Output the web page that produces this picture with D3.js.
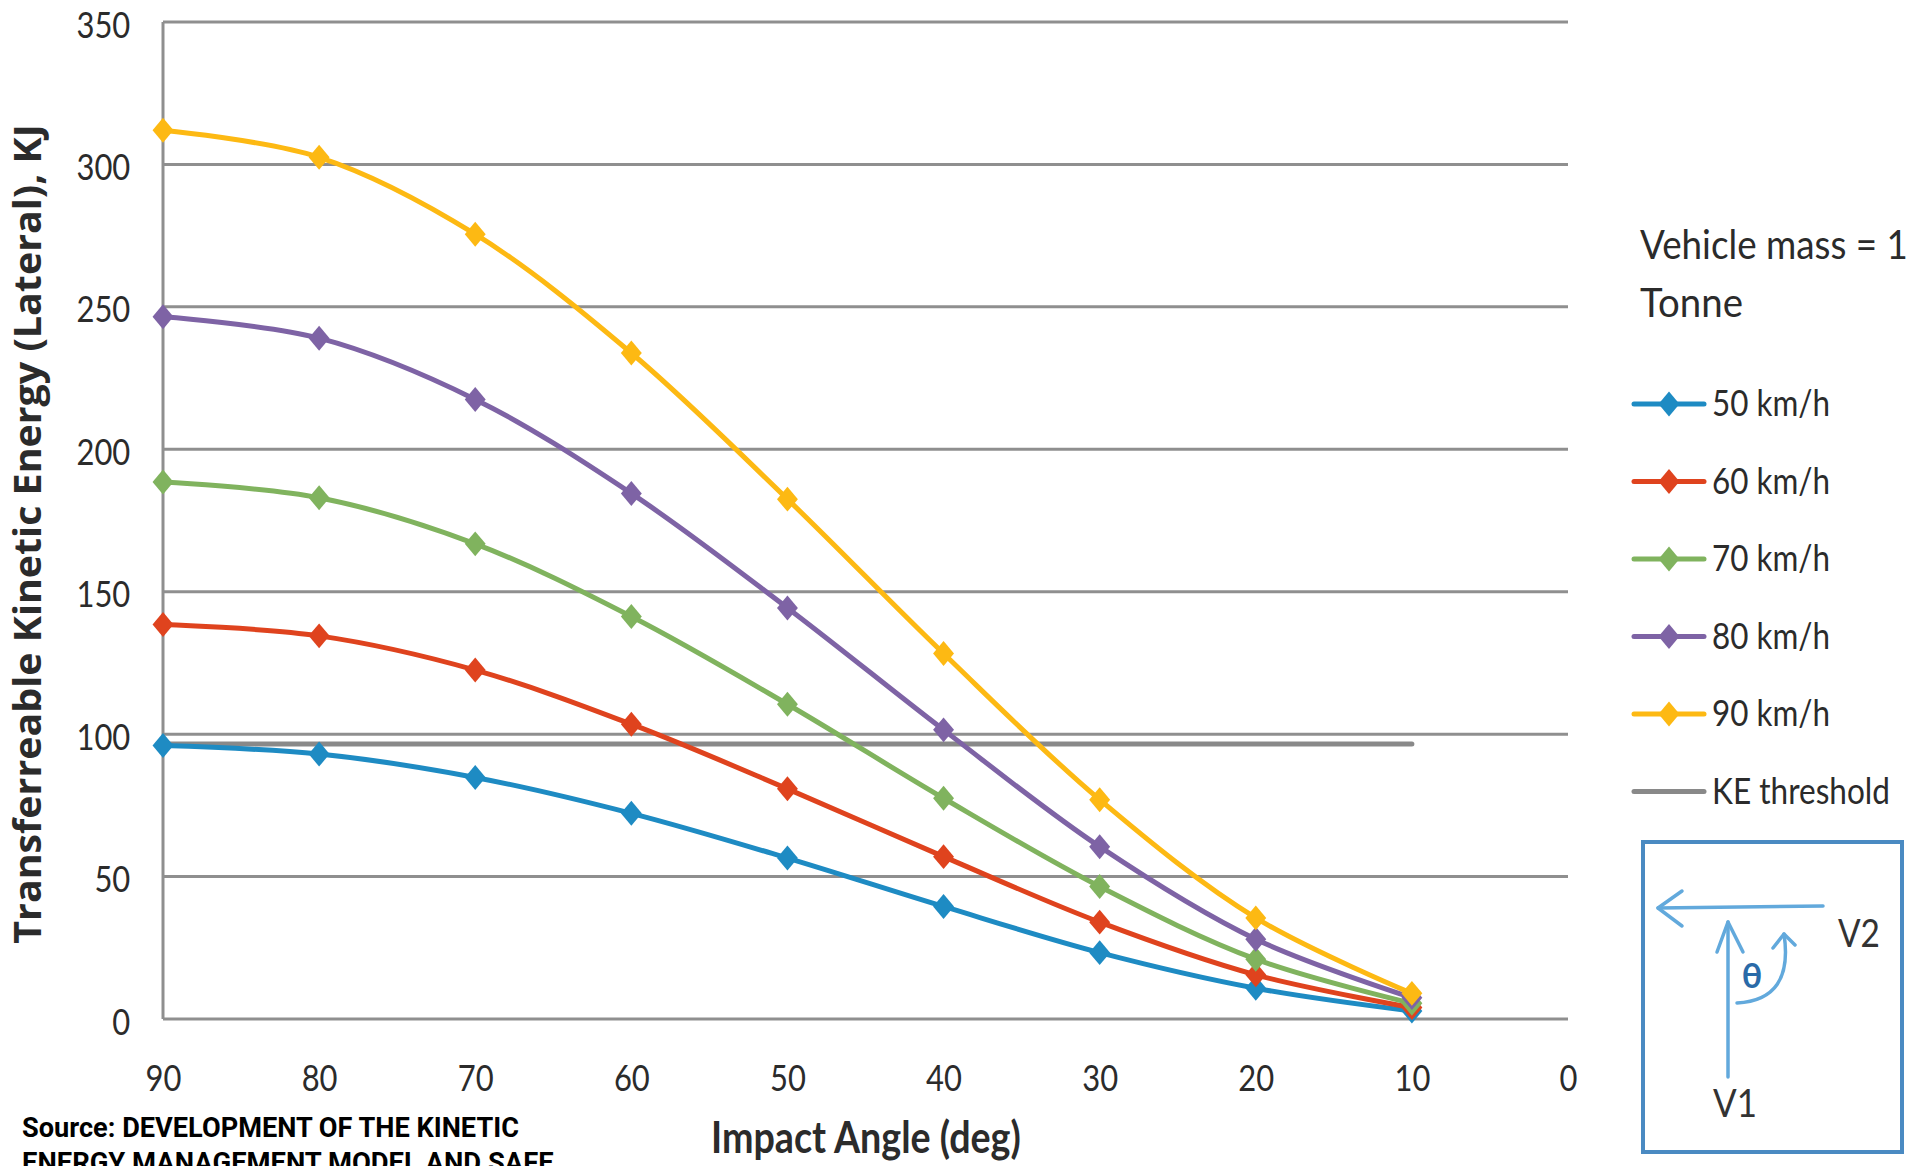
<!DOCTYPE html>
<html>
<head>
<meta charset="utf-8">
<script src="https://cdn.jsdelivr.net/npm/d3@7"></script>
<style>
body { margin: 0; background: #fff; }
svg { display: block; }
</style>
</head>
<body>
<script>
// values
const angles = [90, 80, 70, 60, 50, 40, 30, 20, 10];
const ke50 = [96, 93, 84.8, 72.2, 56.5, 39.5, 23.3, 10.8, 2.8];
const ke60 = [138.5, 134.5, 122.5, 103.5, 80.8, 57, 34, 15.5, 4];
const ke70 = [188.5, 183, 166.8, 141.3, 110.5, 77.5, 46.5, 21, 5.5];
const ke80 = [246.5, 239, 217.5, 184.5, 144.3, 101.5, 60.5, 28, 7.5];
const ke90 = [312, 302.5, 275.5, 233.8, 182.5, 128.3, 77, 35.5, 9];
const threshold = [96.5, 96.5, 96.5, 96.5, 96.5, 96.5, 96.5, 96.5, 96.5];

const seriesNames = ['50 km/h', '60 km/h', '70 km/h', '80 km/h', '90 km/h'];
const seriesColors = ['#1e8bc3', '#df431e', '#80b35e', '#7e63a5', '#fdb913'];
const yTicks = [0, 50, 100, 150, 200, 250, 300, 350];
const xTicks = [90, 80, 70, 60, 50, 40, 30, 20, 10, 0];

const W = 1929, H = 1166;
const plotLeft = 163, plotRight = 1568, plotTop = 22, plotBottom = 1019;
const gridColor = '#8f8f8f';
const textColor = '#2b2b2b';

const svg = d3.select('body').append('svg')
  .attr('width', W)
  .attr('height', H);

const x = d3.scaleLinear().domain([90, 0]).range([plotLeft, plotRight]);
const y = d3.scaleLinear().domain([0, 350]).range([plotBottom, plotTop]);

// squeeze a text horizontally so it spans the given width (text is condensed in the picture)
function fitText(sel, tx, ty, width, rot) {
  sel.each(function () {
    const t = d3.select(this);
    const natural = this.getComputedTextLength();
    const sx = width / natural;
    t.attr('transform', `translate(${tx},${ty})` + (rot ? ` rotate(${rot})` : '') + ` scale(${sx},1)`);
  });
}

// gridlines
svg.append('g').selectAll('line').data(yTicks).join('line')
  .attr('x1', plotLeft).attr('x2', plotRight)
  .attr('y1', d => y(d)).attr('y2', d => y(d))
  .attr('stroke', gridColor)
  .attr('stroke-width', 3);

svg.append('line')
  .attr('x1', plotLeft).attr('x2', plotLeft)
  .attr('y1', y(350)).attr('y2', y(0))
  .attr('stroke', gridColor)
  .attr('stroke-width', 3);

// axes
const yAxis = svg.append('g')
  .attr('transform', `translate(${plotLeft},0)`)
  .call(d3.axisLeft(y).tickValues(yTicks).tickSize(0).tickPadding(38));
yAxis.select('.domain').remove();
yAxis.selectAll('text')
  .attr('font-family', 'Lato, sans-serif')
  .attr('font-size', 36)
  .attr('fill', textColor)
  .attr('dy', '0.42em')
  .attr('transform', 'scale(0.86,1)');

const xAxis = svg.append('g')
  .attr('transform', `translate(0,${plotBottom})`)
  .call(d3.axisBottom(x).tickValues(xTicks).tickSize(0).tickPadding(46));
xAxis.select('.domain').remove();
xAxis.selectAll('text')
  .attr('font-family', 'Lato, sans-serif')
  .attr('font-size', 36)
  .attr('fill', textColor)
  .attr('transform', 'scale(0.86,1)');

// KE threshold
const line = d3.line()
  .x((d, i) => x(angles[i]))
  .y(d => y(d))
  .curve(d3.curveCatmullRom.alpha(0.5));

svg.append('path')
  .attr('d', d3.line().x((d, i) => x(angles[i])).y(d => y(d))(threshold))
  .attr('fill', 'none')
  .attr('stroke', '#898989')
  .attr('stroke-width', 5)
  .attr('stroke-linecap', 'round');

const diamond = d3.symbol().type(d3.symbolDiamond2).size(360);
const allSeries = [ke50, ke60, ke70, ke80, ke90];

allSeries.forEach((vals, s) => {
  const g = svg.append('g');
  g.append('path')
    .attr('d', line(vals))
    .attr('fill', 'none')
    .attr('stroke', seriesColors[s])
    .attr('stroke-width', 5)
    .attr('stroke-linejoin', 'round');
  g.selectAll('path.mk').data(vals).join('path')
    .attr('class', 'mk')
    .attr('d', diamond)
    .attr('transform', (d, i) => `translate(${x(angles[i])},${y(d)}) scale(0.88,1.05)`)
    .attr('fill', seriesColors[s]);
});

// axis titles
svg.append('text')
  .attr('text-anchor', 'middle')
  .attr('font-family', '"Open Sans", sans-serif')
  .attr('font-weight', 'bold')
  .attr('font-size', 37)
  .attr('fill', textColor)
  .text('Transferreable Kinetic Energy (Lateral), KJ')
  .call(fitText, 41, 534, 820, -90);

svg.append('text')
  .attr('font-family', 'Lato, sans-serif')
  .attr('font-weight', 'bold')
  .attr('font-size', 43)
  .attr('fill', textColor)
  .text('Impact Angle (deg)')
  .call(fitText, 711, 1153, 310);

// source note
const sourceLines = ['Source: DEVELOPMENT OF THE KINETIC', 'ENERGY MANAGEMENT MODEL AND SAFE'];
const sourceWidths = [497, 532];
svg.append('g').selectAll('text').data(sourceLines).join('text')
  .attr('font-family', '"Liberation Sans Narrow", "Roboto", sans-serif')
  .attr('font-weight', 'bold')
  .attr('font-size', 28)
  .attr('fill', '#000')
  .text(d => d)
  .each(function (d, i) { fitText(d3.select(this), 22, 1137 + i * 35, sourceWidths[i]); });

// legend
const legend = svg.append('g');
legend.append('text')
  .attr('font-family', 'Lato, sans-serif')
  .attr('font-size', 40)
  .attr('fill', textColor)
  .text('Vehicle  mass = 1')
  .call(fitText, 1640, 259, 268);
legend.append('text')
  .attr('font-family', 'Lato, sans-serif')
  .attr('font-size', 40)
  .attr('fill', textColor)
  .text('Tonne')
  .call(fitText, 1640, 317, 103);

const legendItems = seriesNames.map((n, i) => ({name: n, color: seriesColors[i], marker: true, w: 118}))
  .concat([{name: 'KE threshold', color: '#898989', marker: false, w: 178}]);

const li = legend.selectAll('g.item').data(legendItems).join('g')
  .attr('class', 'item')
  .attr('transform', (d, i) => `translate(0,${404 + i * 77.5})`);
li.append('line')
  .attr('x1', 1634).attr('x2', 1704)
  .attr('stroke', d => d.color)
  .attr('stroke-width', 5)
  .attr('stroke-linecap', 'round');
li.filter(d => d.marker).append('path')
  .attr('d', diamond)
  .attr('transform', 'translate(1669,0) scale(0.88,1.05)')
  .attr('fill', d => d.color);
li.append('text')
  .attr('font-family', 'Lato, sans-serif')
  .attr('font-size', 37)
  .attr('fill', textColor)
  .text(d => d.name)
  .each(function (d) { fitText(d3.select(this), 1712, 12, d.w); });

// inset sketch of the impact angle
const inset = svg.append('g');
const arrowBlue = '#62a9dc';
inset.append('rect')
  .attr('x', 1643).attr('y', 842)
  .attr('width', 259).attr('height', 310)
  .attr('fill', '#fff')
  .attr('stroke', '#4a8ac2')
  .attr('stroke-width', 4);
const arrowPaths = [
  'M1823,906 L1658,908',
  'M1682,891 L1658,908 L1682,926',
  'M1728,1077 L1728,922',
  'M1717,952 L1728,922 L1743,952',
  'M1737,1003 Q1794,1000 1784,934',
  'M1773,948 L1784,934 L1795,945'
];
inset.selectAll('path').data(arrowPaths).join('path')
  .attr('d', d => d)
  .attr('fill', 'none')
  .attr('stroke', arrowBlue)
  .attr('stroke-width', 3.5)
  .attr('stroke-linecap', 'round')
  .attr('stroke-linejoin', 'round');
inset.append('text')
  .attr('x', 1752).attr('y', 988)
  .attr('text-anchor', 'middle')
  .attr('font-family', 'Lato, sans-serif')
  .attr('font-weight', 'bold')
  .attr('font-size', 34)
  .attr('fill', '#2a6aa8')
  .text('θ');
inset.append('text')
  .attr('font-family', 'Lato, sans-serif')
  .attr('font-size', 38)
  .attr('fill', '#333')
  .text('V2')
  .call(fitText, 1838, 947, 42);
inset.append('text')
  .attr('font-family', 'Lato, sans-serif')
  .attr('font-size', 38)
  .attr('fill', '#333')
  .text('V1')
  .call(fitText, 1713, 1117, 44);
</script>
</body>
</html>
